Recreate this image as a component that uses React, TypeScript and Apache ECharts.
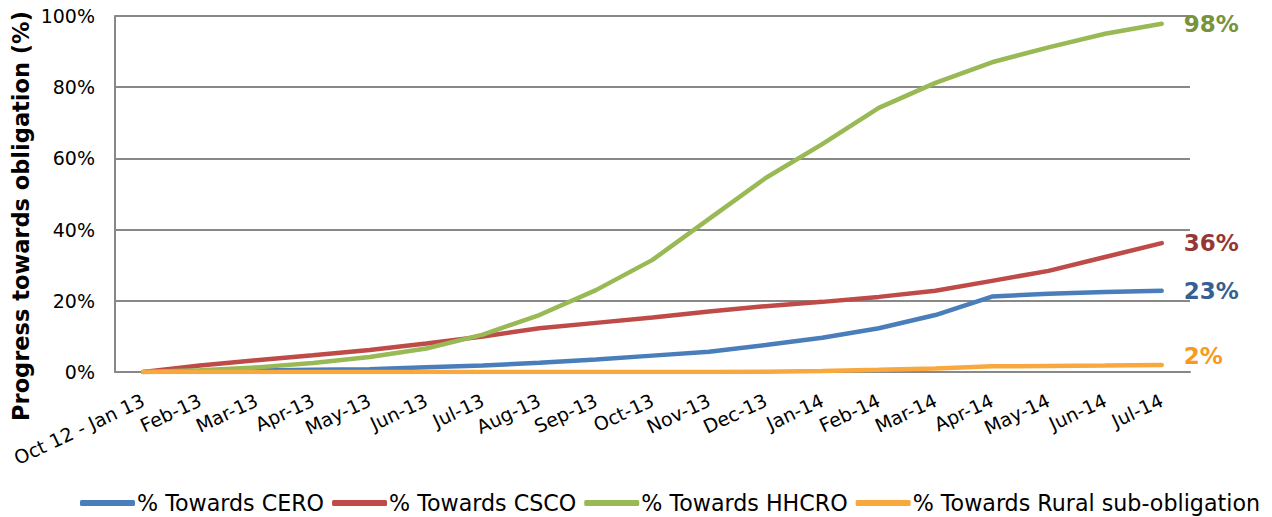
import React, { useEffect, useRef } from "react";
import * as echarts from "echarts";

const categories = [
  "Oct 12 - Jan 13", "Feb-13", "Mar-13", "Apr-13", "May-13", "Jun-13", "Jul-13", "Aug-13",
  "Sep-13", "Oct-13", "Nov-13", "Dec-13", "Jan-14", "Feb-14", "Mar-14", "Apr-14", "May-14",
  "Jun-14", "Jul-14",
];
const cero = [0, 0.2, 0.4, 0.6, 0.8, 1.3, 1.8, 2.6, 3.5, 4.6, 5.7, 7.6, 9.6, 12.3, 16, 21.2, 22, 22.5, 22.8];
const csco = [0, 1.8, 3.3, 4.7, 6.2, 8, 10, 12.3, 13.8, 15.3, 17, 18.5, 19.7, 21.1, 22.8, 25.6, 28.4, 32.3, 36.2];
const hhcro = [0, 0.5, 1.3, 2.5, 4.2, 6.6, 10.5, 16, 23, 31.5, 43, 54.5, 64, 74.2, 81.2, 87, 91.2, 95, 97.8];
const rural = [0, 0, 0, 0, 0, 0, 0, 0, 0, 0, 0, 0.1, 0.3, 0.6, 1.0, 1.6, 1.7, 1.8, 2.0];
const seriesNames = ["% Towards CERO", "% Towards CSCO", "% Towards HHCRO", "% Towards Rural sub-obligation"];
const endLabels = ["23%", "36%", "98%", "2%"];
const yTicks = [0, 20, 40, 60, 80, 100];
const yTitle = "Progress towards obligation (%)";

const lineColors = ["#4A7EBB", "#BE4B48", "#98B954", "#F9A83E"];
const labelColors = ["#376092", "#953735", "#77933C", "#F79A1E"];

export default function App() {
  const ref = useRef<HTMLDivElement>(null);
  useEffect(() => {
    if (!ref.current) return;
    document.body.style.margin = "0";
    const chart = echarts.init(ref.current, null, { renderer: "svg" });
    const data = [cero, csco, hhcro, rural];
    chart.setOption({
      animation: false,
      grid: { left: 115, right: 82, top: 16, bottom: 145, containLabel: false, outerBoundsMode: "none" },
      legend: {
        top: 487,
        left: 75,
        width: 1197,
        icon: "roundRect",
        itemWidth: 55,
        itemHeight: 6,
        itemGap: 8,
        textStyle: { fontFamily: "DejaVu Sans", fontSize: 22.2, color: "#000", padding: [0, 0, 0, -3] },
        data: seriesNames,
      },
      graphic: [
        {
          type: "text",
          x: 21,
          y: 216,
          rotation: Math.PI / 2,
          style: {
            text: yTitle,
            fontFamily: "DejaVu Sans",
            fontWeight: "bold",
            fontSize: 22.5,
            fill: "#000",
            align: "center",
            verticalAlign: "middle",
          },
        },
      ],
      xAxis: {
        type: "category",
        data: categories,
        boundaryGap: true,
        axisLine: { lineStyle: { color: "#888", width: 2 } },
        axisTick: { show: false },
        axisLabel: {
          rotate: 25,
          interval: 0,
          margin: 27,
          fontFamily: "DejaVu Sans",
          fontSize: 19,
          color: "#000",
        },
      },
      yAxis: {
        type: "value",
        min: 0,
        max: 100,
        interval: 20,
        axisLine: { show: true, lineStyle: { color: "#888", width: 2 } },
        axisTick: { show: false },
        splitLine: { lineStyle: { color: "#888", width: 2 } },
        axisLabel: {
          formatter: (v: number) => (yTicks.includes(v) ? v + "%" : ""),
          fontFamily: "DejaVu Sans",
          fontSize: 19,
          color: "#000",
          margin: 20,
        },
      },
      series: data.map((d, i) => ({
        name: seriesNames[i],
        type: "line",
        data: d,
        symbol: "none",
        lineStyle: { color: lineColors[i], width: 4.5, cap: "round" },
        itemStyle: { color: lineColors[i] },
        z: i === 3 ? 5 : 3 + i * 0.1,
        endLabel: {
          show: true,
          formatter: () => endLabels[i],
          color: labelColors[i],
          fontFamily: "DejaVu Sans",
          fontWeight: "bold",
          fontSize: 23,
          distance: 22,
          offset: i === 3 ? [0, -9] : [0, 0],
        },
      })),
    });
    return () => chart.dispose();
  }, []);
  return <div ref={ref} style={{ width: 1272, height: 517 }} />;
}
